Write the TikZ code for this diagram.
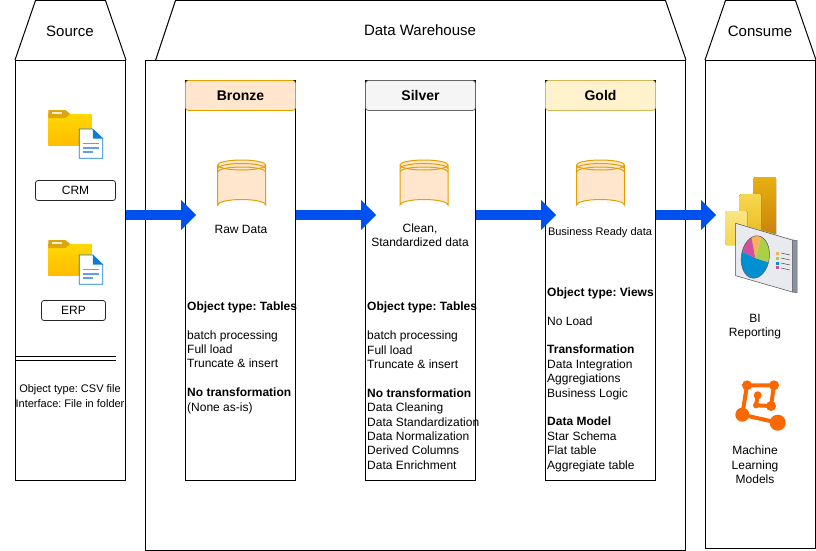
\documentclass[tikz,border=0pt]{standalone}
\usepackage{fontspec}
\setmainfont{Liberation Sans}
\frenchspacing
\usetikzlibrary{arrows.meta,positioning}
\definecolor{bronzefill}{HTML}{FFE6CC}
\definecolor{bronzeline}{HTML}{E3A100}
\definecolor{silverfill}{HTML}{F5F5F5}
\definecolor{silverline}{HTML}{666666}
\definecolor{goldfill}{HTML}{FFF2CC}
\definecolor{goldline}{HTML}{D6B656}
\definecolor{flowblue}{HTML}{0050EF}
\definecolor{mlorange}{HTML}{FA6800}
\definecolor{docblue}{HTML}{0F7BD8}
\definecolor{doclines}{HTML}{5EA0EA}
\definecolor{folderlight}{HTML}{FFD800}
\definecolor{folderdark}{HTML}{FFBC00}
\definecolor{foldertab}{HTML}{DDA60E}
\definecolor{bartop}{HTML}{E8B00F}
\definecolor{barbase}{HTML}{C8820E}
\definecolor{midtop}{HTML}{F6D751}
\definecolor{midbase}{HTML}{E9B20F}
\definecolor{lowtop}{HTML}{F9E583}
\definecolor{screenface}{HTML}{E9EAEF}
\definecolor{screenside}{HTML}{8A93A5}
\definecolor{piepink}{HTML}{D0519B}
\definecolor{pieorange}{HTML}{F9B25A}
\definecolor{piegreen}{HTML}{AACF48}
\definecolor{pieblue}{HTML}{0090D2}
\tikzset{
  x=1pt,y=-1pt,
  panel/.style={draw,line width=1pt,inner sep=0pt},
  tagbox/.style={draw=black!85,rounded corners=2.5pt,line width=0.8pt,minimum height=20pt,inner sep=0pt,font=\fontsize{12}{14.4}\selectfont},
  headbox/.style={rounded corners=3pt,line width=0.8pt,minimum width=110pt,minimum height=30pt,inner sep=0pt,font=\fontsize{14}{14}\selectfont\bfseries},
  title/.style={inner sep=0pt,font=\fontsize{15}{15}\selectfont},
  body/.style={anchor=north west,align=left,inner sep=0pt,font=\fontsize{12}{14.4}\selectfont},
  note/.style={align=center,inner sep=0pt,font=\fontsize{12}{14.4}\selectfont},
  smallnote/.style={align=center,inner sep=0pt,font=\fontsize{11}{15}\selectfont},
  flow/.style={draw=flowblue,line width=10pt,-{Triangle[length=15pt,width=30pt,line width=0pt]}},
  mlline/.style={draw=mlorange,line width=4pt},
  folderpic/.pic={
    \fill[top color=folderlight,bottom color=folderdark] (0,4) -- (43.5,4) -- (43.5,35.3) -- (0,35.3) -- cycle;
    \fill[foldertab] (0,0) -- (17,0) -- (22,4) -- (17,8) -- (0,8) -- cycle;
    \fill[white,opacity=.8] (4,2.2) rectangle (13.5,3.8);
  },
  docpic/.pic={
    \draw[docblue,fill=white,line width=0.8pt] (0,0) -- (13.5,0) -- (23.4,9.5) -- (23.4,29.3) -- (0,29.3) -- cycle;
    \fill[docblue] (13.5,0) -- (23.4,9.5) -- (13.5,9.5) -- cycle;
    \draw[doclines,line width=1.5pt] (3.4,14.3) -- (20,14.3) (3.4,19) -- (20,19) (3.4,23) -- (14,23);
  },
  dbpic/.pic={
    \draw[bronzeline,fill=bronzefill,line width=1pt] (-24,5) arc[x radius=24,y radius=5,start angle=180,end angle=-180]
      (-24,5) -- (-24,45) arc[x radius=24,y radius=5.5,start angle=180,end angle=360] -- (24,5);
    \draw[bronzeline,line width=1pt] (-24,8.5) arc[x radius=24,y radius=5,start angle=180,end angle=360];
    \draw[bronzeline,line width=1pt] (-24,12) arc[x radius=24,y radius=5,start angle=180,end angle=360];
  },
}
\begin{document}
\begin{tikzpicture}
\useasboundingbox (0,0) rectangle (816,551);

% panels
\node[panel,minimum width=110pt,minimum height=420pt] (source) at (70.5,270.5) {};
\node[panel,minimum width=540pt,minimum height=490pt] (warehouse) at (415.5,305.5) {};
\node[panel,minimum width=110pt,minimum height=488pt] (consume) at (760.5,304.5) {};
\draw[line width=1pt] (source.north west) -- (35.5,0.5) -- (105.5,0.5) -- (source.north east);
\draw[line width=1pt] (155.5,60.5) -- (175.5,0.5) -- (665.5,0.5) -- (warehouse.north east);
\draw[line width=1pt] (consume.north west) -- (725.5,0.5) -- (795.5,0.5) -- (consume.north east);
\node[title] (sourcetitle) at (70,31) {Source};
\node[title] (warehousetitle) at (420,30.5) {Data Warehouse};
\node[title] (consumetitle) at (760,31) {Consume};

% layers
\node[panel,minimum width=110pt,minimum height=400pt] (bronze) at (240.5,280.5) {};
\node[panel,minimum width=110pt,minimum height=400pt] (silver) at (420.5,280.5) {};
\node[panel,minimum width=110pt,minimum height=400pt] (gold) at (600.5,280.5) {};
\node[headbox,draw=bronzeline,fill=bronzefill] (bronzehead) at (240.5,95.5) {Bronze};
\node[headbox,draw=silverline,fill=silverfill] (silverhead) at (420.5,95.5) {Silver};
\node[headbox,draw=goldline,fill=goldfill] (goldhead) at (600.5,95.5) {Gold};

% flows
\coordinate (flowa) at (196,215);
\coordinate (flowb) at (376,215);
\coordinate (flowc) at (556,215);
\coordinate (flowd) at (716,215);
\draw[flow] (source.east |- flowa) to (flowa);
\draw[flow] (bronze.east |- flowb) to (flowb);
\draw[flow] (silver.east |- flowc) to (flowc);
\draw[flow] (gold.east |- flowd) to (flowd);

% source content
\pic at (48.3,110) {folderpic};
\pic at (79.3,129) {docpic};
\pic at (48.3,240) {folderpic};
\pic at (79.3,255) {docpic};
\node[tagbox,minimum width=80pt] (crm) at (75.5,190.5) {CRM};
\node[tagbox,minimum width=64pt] (erp) at (73.5,310.5) {ERP};
\draw[line width=0.8pt] (source.west |- 0,356.5) -- (115.5,356.5);
\draw[line width=0.8pt] (source.west |- 0,360.5) -- (115.5,360.5);
\node[smallnote] (sourcenote) at (70,396) {Object type: CSV file\\Interface: File in folder};

% storage
\pic at (241.7,160) {dbpic};
\pic at (424,160) {dbpic};
\pic at (600.5,160) {dbpic};
\node[note] (bronzelabel) at (241,229) {Raw Data};
\node[note] (silverlabel) at (420,235) {Clean,\\Standardized data};
\node[smallnote] (goldlabel) at (600,233) {Business Ready data};

% layer text
\node[body] (bronzetext) at (187,301.3) {\textbf{Object type: Tables}\\[14.4pt]batch processing\\Full load\\Truncate \& insert\\[14.4pt]\textbf{No transformation}\\(None as-is)};
\node[body] (silvertext) at (367,302) {\textbf{Object type: Tables}\\[14.4pt]batch processing\\Full load\\Truncate \& insert\\[14.4pt]\textbf{No transformation}\\Data Cleaning\\Data Standardization\\Data Normalization\\Derived Columns\\Data Enrichment};
\node[body] (goldtext) at (547,287.3) {\textbf{Object type: Views}\\[14.4pt]No Load\\[14.4pt]\textbf{Transformation}\\Data Integration\\Aggregiations\\Business Logic\\[14.4pt]\textbf{Data Model}\\Star Schema\\Flat table\\Aggregiate table};

% bi icon
\fill[rounded corners=1.5pt,top color=bartop,bottom color=barbase] (753.7,177) rectangle (776,236);
\fill[rounded corners=1.5pt,top color=midtop,bottom color=midbase] (739.3,194) rectangle (761.7,250);
\fill[rounded corners=1.5pt,top color=lowtop,bottom color=midtop] (725,211) rectangle (747.7,245);
\fill[screenface] (735.7,223.3) -- (792.3,239) -- (797,240.5) -- (792.3,242) -- (735.7,226) -- cycle;
\draw[black!70,fill=screenface,line width=0.5pt] (735.7,223.3) -- (792.3,240) -- (792.3,292) -- (735.7,275.7) -- cycle;
\draw[black!60,fill=screenside,line width=0.5pt] (792.3,240) -- (797,240.5) -- (797,292.7) -- (792.3,292) -- cycle;
\begin{scope}
  \clip[rotate around={-8:(755.3,257)}] (755.3,257) ellipse[x radius=14,y radius=21.3];
  \fill[pieblue] (755.3,258) -- (780,266) -- (780,300) -- (720,300) -- (720,241) -- cycle;
  \fill[piegreen] (755.3,258) -- (763,230) -- (780,230) -- (780,266) -- cycle;
  \fill[pieorange] (755.3,258) -- (750,230) -- (763,230) -- cycle;
  \fill[piepink] (755.3,258) -- (720,241) -- (720,225) -- (750,230) -- cycle;
\end{scope}
\draw[black!65,line width=0.5pt,rotate around={-8:(755.3,257)}] (755.3,257) ellipse[x radius=14,y radius=21.3];
\fill[pieorange] (776.2,251.8) rectangle +(3,3);
\fill[piegreen] (776.2,256.5) rectangle +(3,3);
\fill[pieblue] (776.2,261.5) rectangle +(3,3);
\fill[piepink] (776.2,266.2) rectangle +(3,3);
\draw[black!70,line width=0.5pt] (781,253) -- (790,255) (781,258) -- (790,260) (781,263) -- (790,265) (781,268) -- (790,270);
\node[note] (bilabel) at (755,326.5) {BI\\Reporting};

% ml icon
\coordinate (mltl) at (747,385.3);
\coordinate (mltr) at (774,385.3);
\coordinate (mlleft) at (742.3,414.7);
\coordinate (mlright) at (777.7,422.7);
\coordinate (mlup) at (757.7,395.3);
\coordinate (mldown) at (756,405.3);
\coordinate (mlmid) at (771,406);
\draw[mlline] (mlleft) -- (mltl) -- (mltr) -- (mlmid) -- (mldown) -- (mlup);
\draw[mlline] (mlleft) -- (mlright);
\fill[mlorange] (mltl) circle[radius=5];
\fill[mlorange] (mltr) circle[radius=5];
\fill[mlorange] (mlleft) circle[radius=7];
\fill[mlorange] (mlright) circle[radius=8];
\fill[mlorange] (mlup) circle[radius=4];
\fill[mlorange] (mldown) circle[radius=3];
\fill[mlorange] (mlmid) circle[radius=5];
\node[note] (mllabel) at (755,465) {Machine\\Learning\\Models};
\end{tikzpicture}
\end{document}
